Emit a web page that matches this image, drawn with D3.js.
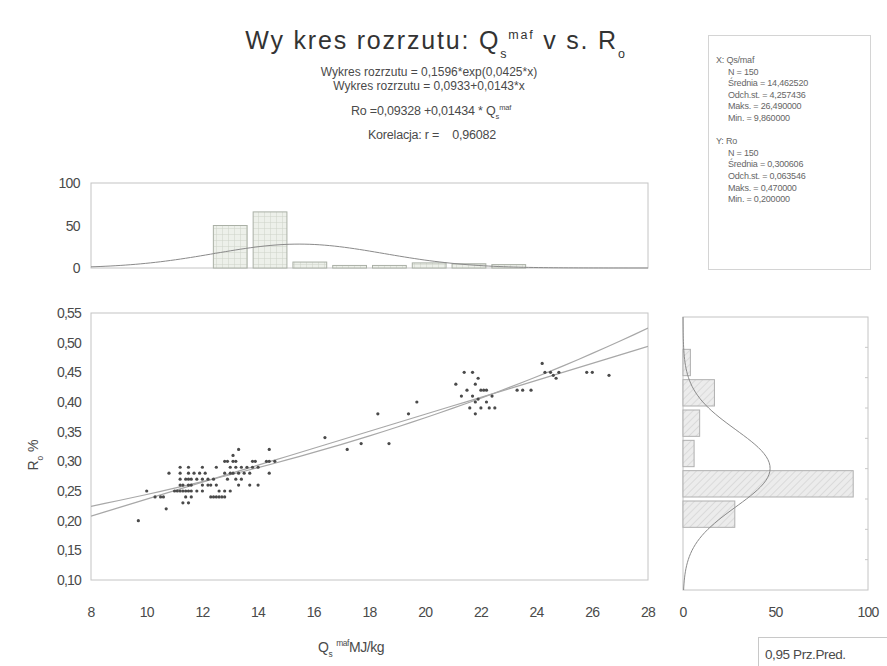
<!DOCTYPE html>
<html>
<head>
<meta charset="utf-8">
<script src="https://cdn.jsdelivr.net/npm/d3@7"></script>
<style>
  body { margin: 0; background: #fff; }
  svg { font-family: "Liberation Sans", Arial, sans-serif; }
</style>
</head>
<body>
<svg id="chart" width="887" height="666"></svg>
<script>
// ---- data ----
// Qs maf (x) and Ro (y), one entry per point
const qsValues = [
  9.7, 10.7,
  11.3, 11.5,
  10.3, 10.5, 10.6, 11.4, 11.6, 12.3, 12.4, 12.5, 12.6, 12.7, 12.8,
  10.0, 11.0, 11.1, 11.2, 11.3, 11.4, 11.5, 11.6, 11.8, 12.0, 12.6, 12.8, 13.0,
  11.2, 11.3, 11.5, 11.6, 12.0, 12.2, 12.3, 12.5, 13.3, 13.7, 14.0,
  11.2, 11.4, 11.5, 11.6, 11.8, 12.0, 12.2, 12.4, 12.9, 13.2, 13.4,
  10.8, 11.2, 11.5, 11.7, 11.9, 12.1, 12.8, 13.0, 13.1, 13.3, 13.5, 13.7, 14.4,
  11.2, 11.5, 12.0, 12.5, 13.0, 13.2, 13.4, 13.6, 13.8, 14.0,
  12.8, 12.9, 13.1, 13.2, 13.8, 13.9, 14.3, 14.4, 14.6,
  13.1, 13.3, 14.4,
  16.4, 17.2, 17.7, 18.3, 18.7, 19.4, 19.7,
  21.1, 21.3, 21.4, 21.7, 21.6, 21.8, 21.9, 21.7, 21.8, 21.8, 22.0, 22.1, 22.2,
  22.0, 22.2, 22.3, 22.5, 22.4, 21.5, 21.9,
  23.3, 23.5, 23.8,
  24.2, 24.3, 24.5, 24.6, 24.8, 24.7, 25.8, 26.0, 26.6
];
const roValues = [
  0.20, 0.22,
  0.23, 0.23,
  0.24, 0.24, 0.24, 0.24, 0.24, 0.24, 0.24, 0.24, 0.24, 0.24, 0.24,
  0.25, 0.25, 0.25, 0.25, 0.25, 0.25, 0.25, 0.25, 0.25, 0.25, 0.25, 0.25, 0.25,
  0.26, 0.26, 0.26, 0.26, 0.26, 0.26, 0.26, 0.26, 0.26, 0.26, 0.26,
  0.27, 0.27, 0.27, 0.27, 0.27, 0.27, 0.27, 0.27, 0.27, 0.27, 0.27,
  0.28, 0.28, 0.28, 0.28, 0.28, 0.28, 0.28, 0.28, 0.28, 0.28, 0.28, 0.28, 0.28,
  0.29, 0.29, 0.29, 0.29, 0.29, 0.29, 0.29, 0.29, 0.29, 0.29,
  0.30, 0.30, 0.30, 0.30, 0.30, 0.30, 0.30, 0.30, 0.30,
  0.31, 0.32, 0.32,
  0.34, 0.32, 0.33, 0.38, 0.33, 0.38, 0.40,
  0.43, 0.41, 0.45, 0.45, 0.39, 0.43, 0.44, 0.41, 0.40, 0.38, 0.42, 0.42, 0.42,
  0.39, 0.40, 0.39, 0.39, 0.41, 0.42, 0.405,
  0.42, 0.42, 0.42,
  0.465, 0.45, 0.45, 0.445, 0.45, 0.44, 0.45, 0.45, 0.445
];

// histogram of X (top) : bins of width 2
const topBinStart = [10, 12, 14, 16, 18, 20, 22, 24];
const topBinCounts = [50, 66, 7, 3, 3, 6, 5, 4];
// histogram of Y (right) : bins of width 0.05
const rightBinStart = [0.20, 0.25, 0.30, 0.35, 0.40, 0.45];
const rightBinCounts = [28, 92, 6, 9, 17, 4];

// fitted curves from the header
const expFit = { a: 0.1596, b: 0.0425 };
const linFit = { a: 0.0933, b: 0.0143 };
const xStats = { n: 150, mean: 14.462520, sd: 4.257436 };
const yStats = { n: 150, mean: 0.300606, sd: 0.063546 };

const xTicks = [8, 10, 12, 14, 16, 18, 20, 22, 24, 26, 28];
const yTicks = [0.10, 0.15, 0.20, 0.25, 0.30, 0.35, 0.40, 0.45, 0.50, 0.55];
const countTicks = [0, 50, 100];

const statLines = [
  { t: "X:  Qs/maf", indent: 0 },
  { t: "N = 150", indent: 1 },
  { t: "Średnia = 14,462520", indent: 1 },
  { t: "Odch.st. = 4,257436", indent: 1 },
  { t: "Maks. = 26,490000", indent: 1 },
  { t: "Min. = 9,860000", indent: 1 },
  { t: "", indent: 0 },
  { t: "Y:  Ro", indent: 0 },
  { t: "N = 150", indent: 1 },
  { t: "Średnia = 0,300606", indent: 1 },
  { t: "Odch.st. = 0,063546", indent: 1 },
  { t: "Maks. = 0,470000", indent: 1 },
  { t: "Min. = 0,200000", indent: 1 }
];

// ---- helpers ----
const svg = d3.select("#chart");
const comma = f => v => d3.format(f)(v).replace(".", ",");
const textColor = "#4a4a4a";
const frameColor = "#c4c4c4";

// text with sub / superscript parts
function richText(g, x, y, parts, size, anchor = "start", small = 0.6) {
  const t = g.append("text")
    .attr("x", x).attr("y", y)
    .attr("font-size", size)
    .attr("fill", textColor)
    .attr("text-anchor", anchor);
  let shift = 0;
  parts.forEach(p => {
    const target = p.sub ? size * 0.35 : p.sup ? -size * 0.4 : 0;
    t.append("tspan")
      .attr("dy", target - shift)
      .attr("font-size", p.sub || p.sup ? size * small : size)
      .text(p.t);
    shift = target;
  });
  return t;
}

// hatched fill for histogram bars
const defs = svg.append("defs");
const hatch = defs.append("pattern")
  .attr("id", "hatch")
  .attr("patternUnits", "userSpaceOnUse")
  .attr("width", 5).attr("height", 5)
  .attr("patternTransform", "rotate(45)");
hatch.append("rect").attr("width", 5).attr("height", 5).attr("fill", "#ececec");
hatch.append("line").attr("x1", 0).attr("y1", 0).attr("x2", 0).attr("y2", 5)
  .attr("stroke", "#c8c8c8").attr("stroke-width", 1);

const grid = defs.append("pattern")
  .attr("id", "grid")
  .attr("patternUnits", "userSpaceOnUse")
  .attr("width", 6).attr("height", 6);
grid.append("rect").attr("width", 6).attr("height", 6).attr("fill", "#edf0ea");
grid.append("path").attr("d", "M0,0H6M0,0V6")
  .attr("stroke", "#cdd3c8").attr("stroke-width", 1);

// ---- layout ----
const main = { left: 91, right: 648, top: 313, bottom: 580 };
const topH = { left: 91, right: 648, top: 183, bottom: 268 };
const rightH = { left: 683, right: 868, top: 317, bottom: 590 };

const x = d3.scaleLinear().domain([8, 28]).range([main.left, main.right]);
const y = d3.scaleLinear().domain([0.10, 0.55]).range([main.bottom, main.top]);

const xTop = d3.scaleLinear().domain([4, 32]).range([topH.left, topH.right]);
const yTop = d3.scaleLinear().domain([0, 100]).range([topH.bottom, topH.top]);

const xRight = d3.scaleLinear().domain([0, 100]).range([rightH.left, rightH.right]);
const yRight = d3.scaleLinear().domain([0.10, 0.55]).range([rightH.bottom, rightH.top]);

// ---- title block ----
const head = svg.append("g");
richText(head, 436, 49, [
  { t: "Wy kres rozrzutu: Q" }, { t: "s", sub: true }, { t: "maf", sup: true },
  { t: " v s. R" }, { t: "o", sub: true }
], 25, "middle", 0.5).attr("letter-spacing", 1.8).attr("fill", "#333");

richText(head, 429, 76, [{ t: "Wykres rozrzutu = 0,1596*exp(0,0425*x)" }], 12, "middle");
richText(head, 429, 90, [{ t: "Wykres rozrzutu = 0,0933+0,0143*x" }], 12, "middle");
richText(head, 431, 115, [
  { t: "Ro =0,09328 +0,01434 * Q" }, { t: "s", sub: true }, { t: "maf", sup: true }
], 12.5, "middle").attr("letter-spacing", -0.2);
richText(head, 432, 139, [{ t: "Korelacja: r =    0,96082" }], 12.5, "middle")
  .attr("letter-spacing", -0.2).style("white-space", "pre");

// ---- stats box ----
const box = svg.append("g");
box.append("rect")
  .attr("x", 708.5).attr("y", 35.5).attr("width", 162).attr("height", 234)
  .attr("fill", "#fff").attr("stroke", "#d4d4d4");
box.selectAll("text.stat")
  .data(statLines)
  .join("text")
  .attr("class", "stat")
  .attr("x", d => 716 + d.indent * 12)
  .attr("y", (d, i) => 63 + i * 11.6)
  .attr("font-size", 9)
  .attr("letter-spacing", -0.2)
  .attr("fill", "#666")
  .text(d => d.t);

// ---- top histogram ----
const gTop = svg.append("g");
gTop.append("rect")
  .attr("x", topH.left).attr("y", topH.top)
  .attr("width", topH.right - topH.left).attr("height", topH.bottom - topH.top)
  .attr("fill", "none").attr("stroke", frameColor);

gTop.selectAll("rect.bar")
  .data(topBinStart.map((s, i) => ({ x0: s, x1: s + 2, n: topBinCounts[i] })))
  .join("rect")
  .attr("class", "bar")
  .attr("x", d => xTop(d.x0) + 3)
  .attr("width", d => xTop(d.x1) - xTop(d.x0) - 6)
  .attr("y", d => yTop(d.n))
  .attr("height", d => yTop(0) - yTop(d.n))
  .attr("fill", "url(#grid)")
  .attr("stroke", "#aab0a6");

const topBin = 2;
const topCurve = d3.range(4, 32.01, 0.25).map(v => [v,
  xStats.n * topBin / (xStats.sd * Math.sqrt(2 * Math.PI)) *
  Math.exp(-0.5 * ((v - xStats.mean) / xStats.sd) ** 2)]);
gTop.append("path")
  .datum(topCurve)
  .attr("fill", "none").attr("stroke", "#8a8a8a").attr("stroke-width", 1)
  .attr("d", d3.line().x(d => xTop(d[0])).y(d => yTop(d[1])));

gTop.selectAll("text.tick")
  .data(countTicks)
  .join("text")
  .attr("class", "tick")
  .attr("x", 80).attr("y", d => yTop(d) + 5)
  .attr("text-anchor", "end")
  .attr("font-size", 14).attr("letter-spacing", -0.6)
  .attr("fill", textColor)
  .text(d => d);

// ---- main scatter ----
const gMain = svg.append("g");
gMain.append("rect")
  .attr("x", main.left).attr("y", main.top)
  .attr("width", main.right - main.left).attr("height", main.bottom - main.top)
  .attr("fill", "none").attr("stroke", frameColor);

const clip = defs.append("clipPath").attr("id", "mainClip");
clip.append("rect")
  .attr("x", main.left).attr("y", main.top)
  .attr("width", main.right - main.left).attr("height", main.bottom - main.top);

const fitX = d3.range(8, 28.01, 0.5);
const fitLine = d3.line().x(d => x(d[0])).y(d => y(d[1]));
gMain.append("path")
  .datum(fitX.map(v => [v, expFit.a * Math.exp(expFit.b * v)]))
  .attr("clip-path", "url(#mainClip)")
  .attr("fill", "none").attr("stroke", "#a8a8a8").attr("stroke-width", 1.2)
  .attr("d", fitLine);
gMain.append("path")
  .datum(fitX.map(v => [v, linFit.a + linFit.b * v]))
  .attr("clip-path", "url(#mainClip)")
  .attr("fill", "none").attr("stroke", "#a8a8a8").attr("stroke-width", 1.2)
  .attr("d", fitLine);

gMain.selectAll("circle.pt")
  .data(qsValues.map((q, i) => ({ q, r: roValues[i] })))
  .join("circle")
  .attr("class", "pt")
  .attr("cx", d => x(d.q))
  .attr("cy", d => y(d.r))
  .attr("r", 1.6)
  .attr("fill", "#4a4a4a");

gMain.selectAll("text.ytick")
  .data(yTicks)
  .join("text")
  .attr("class", "ytick")
  .attr("x", 81).attr("y", d => y(d) + 5)
  .attr("text-anchor", "end")
  .attr("font-size", 14).attr("letter-spacing", -0.8)
  .attr("fill", textColor)
  .text(comma(".2f"));

gMain.selectAll("text.xtick")
  .data(xTicks)
  .join("text")
  .attr("class", "xtick")
  .attr("x", d => x(d)).attr("y", 617)
  .attr("text-anchor", "middle")
  .attr("font-size", 14).attr("letter-spacing", -0.8)
  .attr("fill", textColor)
  .text(d => d);

richText(gMain, 318, 652, [
  { t: "Q" }, { t: "s", sub: true }, { t: "  maf", sup: true }, { t: "MJ/kg" }
], 14, "start").attr("letter-spacing", -0.4).style("white-space", "pre");

const yTitle = gMain.append("g").attr("transform", "translate(38,455) rotate(-90)");
richText(yTitle, 0, 0, [{ t: "R" }, { t: "o", sub: true }, { t: " %" }], 14, "middle");

// ---- right histogram ----
const gRight = svg.append("g");
gRight.append("rect")
  .attr("x", rightH.left).attr("y", rightH.top)
  .attr("width", rightH.right - rightH.left).attr("height", rightH.bottom - rightH.top)
  .attr("fill", "none").attr("stroke", frameColor);

gRight.selectAll("rect.bar")
  .data(rightBinStart.map((s, i) => ({ y0: s, y1: s + 0.05, n: rightBinCounts[i] })))
  .join("rect")
  .attr("class", "bar")
  .attr("x", xRight(0))
  .attr("width", d => xRight(d.n) - xRight(0))
  .attr("y", d => yRight(d.y1) + 2)
  .attr("height", d => yRight(d.y0) - yRight(d.y1) - 4)
  .attr("fill", "url(#hatch)")
  .attr("stroke", "#b0b0b0");

const rightBin = 0.05;
const rightCurve = d3.range(0.10, 0.5501, 0.005).map(v => [v,
  yStats.n * rightBin / (yStats.sd * Math.sqrt(2 * Math.PI)) *
  Math.exp(-0.5 * ((v - yStats.mean) / yStats.sd) ** 2)]);
gRight.append("path")
  .datum(rightCurve)
  .attr("fill", "none").attr("stroke", "#8a8a8a").attr("stroke-width", 1)
  .attr("d", d3.line().x(d => xRight(d[1])).y(d => yRight(d[0])));

gRight.selectAll("line.tick")
  .data(yTicks.slice(1, -1))
  .join("line")
  .attr("class", "tick")
  .attr("x1", rightH.right - 3).attr("x2", rightH.right)
  .attr("y1", d => yRight(d)).attr("y2", d => yRight(d))
  .attr("stroke", "#c8c8c8");

gRight.selectAll("text.xtick")
  .data(countTicks)
  .join("text")
  .attr("class", "xtick")
  .attr("x", d => xRight(d)).attr("y", 617)
  .attr("text-anchor", "middle")
  .attr("font-size", 14).attr("letter-spacing", -0.8)
  .attr("fill", textColor)
  .text(d => d);

// ---- legend for the fit band ----
const leg = svg.append("g");
leg.append("rect")
  .attr("x", 758.5).attr("y", 637.5).attr("width", 140).attr("height", 40)
  .attr("fill", "#fff").attr("stroke", "#c8c8c8");
leg.append("text")
  .attr("x", 765).attr("y", 659)
  .attr("font-size", 13.5).attr("letter-spacing", -0.4)
  .attr("fill", textColor)
  .text("0,95 Prz.Pred.");
</script>
</body>
</html>
